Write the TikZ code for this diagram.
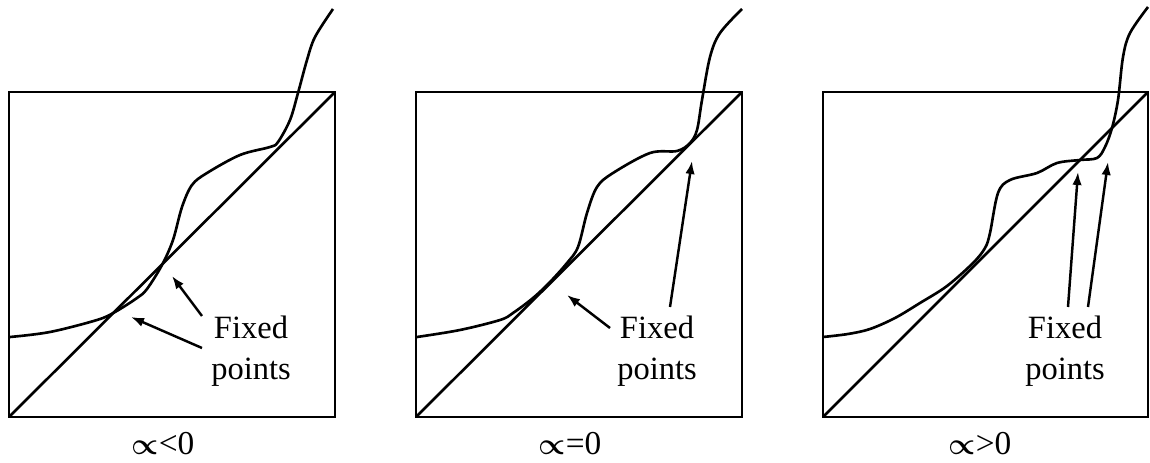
\documentclass[tikz,border=0pt]{standalone}
\usepackage{amsmath,bm}
\usepackage{fontspec}
\setmainfont{Liberation Serif}
\usetikzlibrary{arrows.meta}

\begin{document}
\begin{tikzpicture}[x=0.02cm, y=0.02cm,
  frame/.style={line width=1.5pt},
  graph/.style={line width=1.5pt, line join=round},
  ptr/.style={-{Latex[length=2.6mm, width=1.9mm]}, line width=1.4pt},
  fptext/.style={font=\fontsize{18.5}{23.5}\selectfont, align=center, inner sep=0pt},
  caption/.style={font=\fontsize{19}{21}\selectfont, inner sep=0pt}
]
\useasboundingbox (0,0) rectangle (1150,463);

% ── alpha < 0 ───────────────────────────
\begin{scope}[shift={(9,46)}]
  \draw[frame] (0,0) rectangle (326,325);
  \draw[frame] (0,0) -- (326,325);
  \draw[graph] plot[smooth, tension=0.55] coordinates {
    (1,80) (41,85) (88,97) (106,105) (128,119) (138,128) (153,152)
    (164,177) (173,210) (183,232) (198,244) (231,262) (261,270)
    (269,275) (281,297) (289,324) (298,357) (306,380) (324,408)};
  \node[fptext] (fpa) at (242,66) {Fixed\\points};
  \coordinate (ta1) at (193,69);
  \coordinate (ha1) at (122,100);
  \coordinate (ta2) at (193,101);
  \coordinate (ha2) at (163,141);
  \draw[ptr] (ta1) -- (ha1);
  \draw[ptr] (ta2) -- (ha2);
  \node[caption] (capa) at (154,-27) {$\bm{\propto}$<0};
\end{scope}

% ── alpha = 0 ───────────────────────────
\begin{scope}[shift={(416,46)}]
  \draw[frame] (0,0) rectangle (326,325);
  \draw[frame] (0,0) -- (326,325);
  \draw[graph] plot[smooth, tension=0.55] coordinates {
    (1,80) (44,87) (84,97) (97,104) (117,119) (134,135) (151,154)
    (162,170) (171,204) (181,230) (197,244) (234,264) (261,266)
    (274,274) (281,287) (286,317) (294,360) (304,384) (326,408)};
  \node[fptext] (fpb) at (241,66) {Fixed\\points};
  \coordinate (tb1) at (194,89);
  \coordinate (hb1) at (151,122);
  \coordinate (tb2) at (254,110);
  \coordinate (hb2) at (276,256);
  \draw[ptr] (tb1) -- (hb1);
  \draw[ptr] (tb2) -- (hb2);
  \node[caption] (capb) at (154,-27) {$\bm{\propto}$=0};
\end{scope}

% ── alpha > 0 ───────────────────────────
\begin{scope}[shift={(823,46)}]
  \draw[frame] (0,0) rectangle (325,325);
  \draw[frame] (0,0) -- (325,325);
  \draw[graph] plot[smooth, tension=0.55] coordinates {
    (0,80) (25,83) (47,88) (72,99) (97,114) (124,131) (150,154) (162,169)
    (167,184) (175,224) (187,237) (214,244) (234,254) (257,257)
    (274,259) (282,270) (289,289) (295,317) (300,360) (307,384) (325,410)};
  \node[fptext] (fpc) at (242,66) {Fixed\\points};
  \coordinate (tc1) at (245,110);
  \coordinate (hc1) at (255,245);
  \coordinate (tc2) at (265,110);
  \coordinate (hc2) at (285,255);
  \draw[ptr] (tc1) -- (hc1);
  \draw[ptr] (tc2) -- (hc2);
  \node[caption] (capc) at (157,-27) {$\bm{\propto}$>0};
\end{scope}
\end{tikzpicture}
\end{document}
